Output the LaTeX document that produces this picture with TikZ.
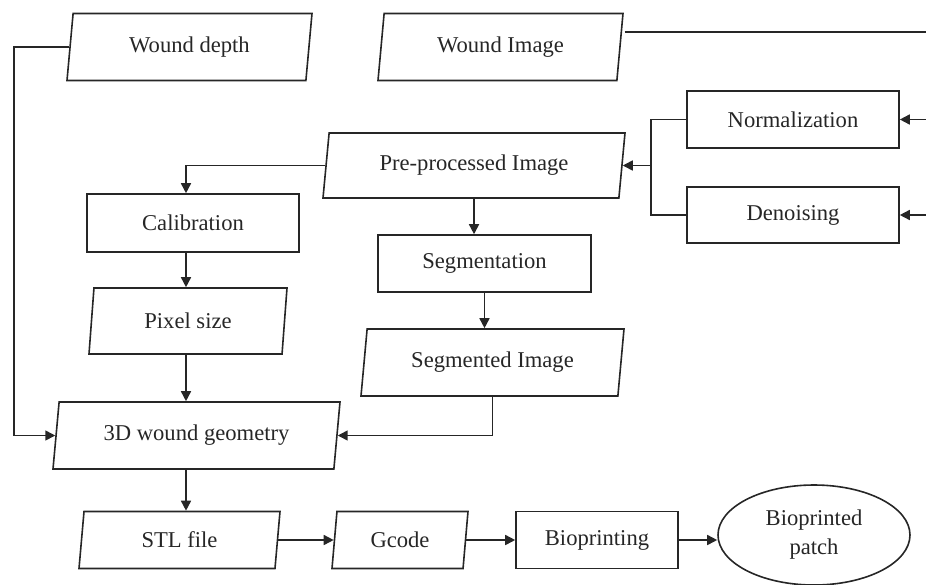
\documentclass[tikz,border=0pt]{standalone}
\usepackage{fontspec}
\setmainfont{Liberation Serif}
\usetikzlibrary{shapes.geometric,arrows.meta}
\begin{document}
\begin{tikzpicture}[x=1pt,y=-1pt,
  every node/.style={font=\fontsize{22.6}{29}\selectfont, text=black!85},
  line/.style={draw=black!85, line width=1.6pt},
  arr/.style={line, -{Triangle[length=10pt,width=10pt]}},
  box/.style={line, rectangle, inner sep=2pt, minimum width=#1, minimum height=57pt},
  io/.style={line, trapezium, trapezium left angle=76, trapezium right angle=104,
    trapezium stretches body, inner sep=2pt, minimum width=#1, minimum height=67pt},
  ]
\useasboundingbox (0,0) rectangle (926,584);

% inputs
\node[io=245pt] (wd) at (189.5,47) {Wound depth};
\node[io=245pt] (wi) at (500.5,47) {Wound Image};

% pre-processing
\node[box=212pt] (norm) at (793,119.5) {Normalization};
\node[box=212pt, minimum height=56pt] (den) at (793,215) {Denoising};
\node[io=302pt, minimum height=65pt] (pre) at (474,165.5) {Pre-processed Image};

% calibration branch
\node[box=212pt, minimum height=58pt] (cal) at (193,223) {Calibration};
\node[io=198pt, minimum height=66pt] (pix) at (188,321) {Pixel size};

% segmentation branch
\node[box=213pt] (seg) at (484.5,263.5) {Segmentation};
\node[io=263pt] (segd) at (492.5,362.5) {Segmented Image};

% geometry and printing chain
\node[io=287pt] (geo) at (196.5,435.5) {3D wound geometry};
\node[io=201pt, minimum height=57pt] (stl) at (179.5,540) {STL file};
\node[io=136pt, minimum height=57pt] (gc) at (400,540) {Gcode};
\node[box=162pt] (bio) at (597,540) {Bioprinting};
\node[line, ellipse, minimum width=192pt, minimum height=100pt, inner sep=0pt,
  align=center] (ell) at (814,535) {Bioprinted\\patch};

% routing helpers
\coordinate (lft) at (14,0);
\coordinate (rgt) at (926,0);
\coordinate (bus) at (651,0);
\coordinate (colx) at (186,0);
\coordinate (wiout) at (926,32);

% connectors
\draw[arr] (wd.left side) -- (wd.left side -| lft) |- (geo.left side);
\draw[line] ([xshift=3.8pt]wiout -| wi.right side) -- (wiout);
\draw[arr] (norm.east -| rgt) -- (norm.east);
\draw[arr] (den.east -| rgt) -- (den.east);
\draw[line] (norm.west) -- (norm.west -| bus) -- (den.west -| bus) -- (den.west);
\draw[arr] (pre.right side -| bus) -- (pre.right side);
\draw[arr] (pre.left side) -| (cal.north -| colx);
\draw[arr] (cal.south -| colx) -- (pix.north -| colx);
\draw[arr] (pix.south -| colx) -- (geo.north -| colx);
\draw[arr] (geo.south -| colx) -- (stl.north -| colx);
\draw[arr] (pre.south) -- (seg.north -| pre.south);
\draw[arr] (seg.south) -- (segd.north -| seg.south);
\draw[arr] (segd.south) |- (geo.right side);
\draw[arr] (stl.right side) -- (gc.left side);
\draw[arr] (gc.right side) -- (gc.right side -| bio.west);
\draw[arr] (bio.east) -- (bio.east -| ell.west);
\end{tikzpicture}
\end{document}
